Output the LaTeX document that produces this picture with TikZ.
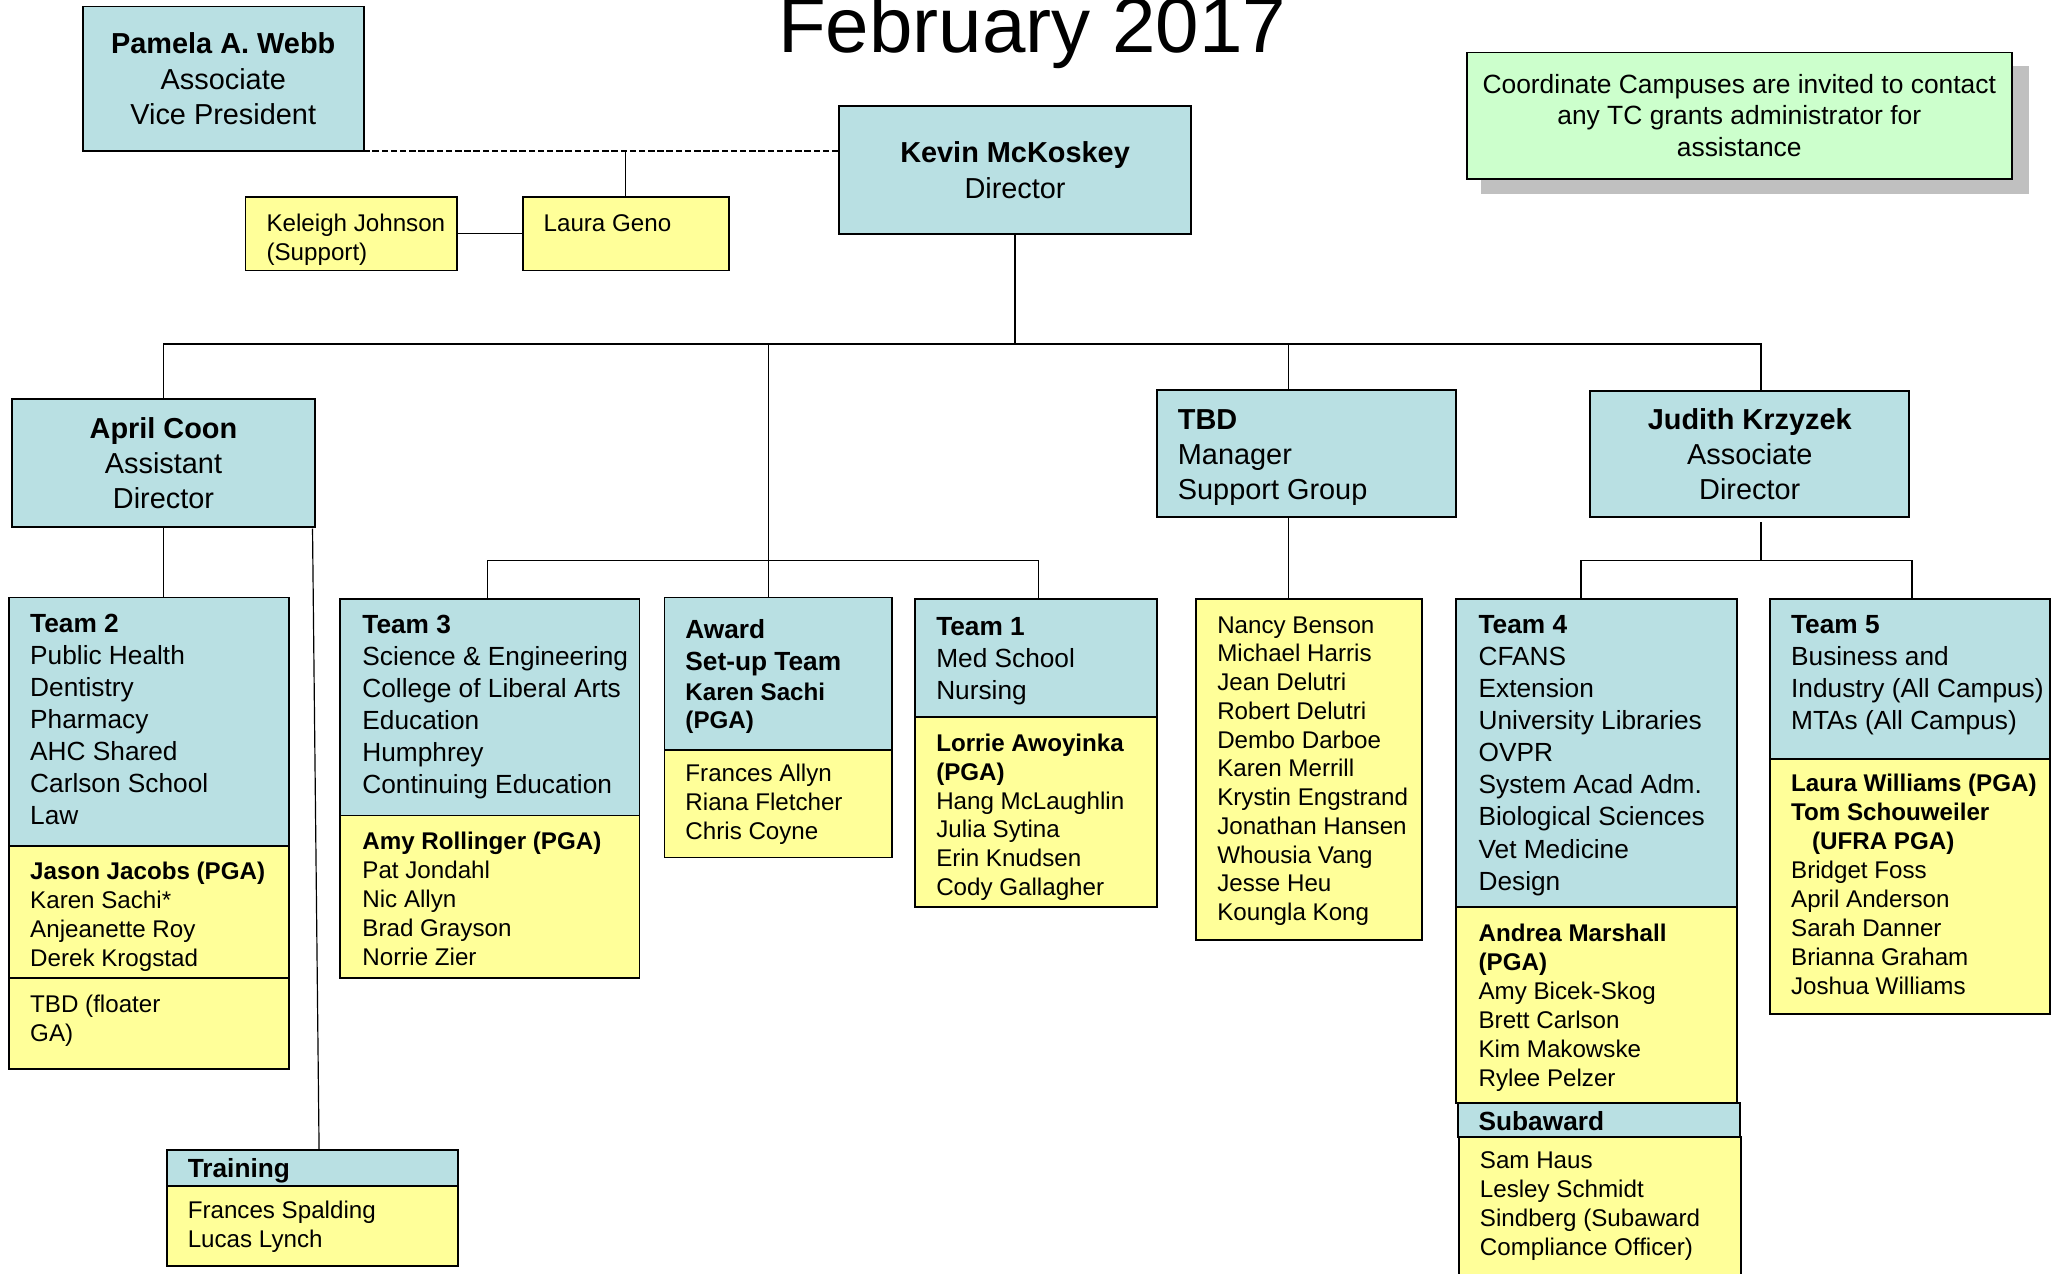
\documentclass[tikz,border=0pt]{standalone}
\usepackage{fontspec}
\setmainfont{Liberation Sans}
\definecolor{bl}{HTML}{B9E0E3}
\definecolor{yl}{HTML}{FFFF99}
\definecolor{gn}{HTML}{CCFFCC}
\definecolor{sh}{HTML}{C0C0C0}
\tikzset{
  sect/.style={draw=black, line width=1.4pt, inner sep=0pt, outer sep=0pt, anchor=north west},
  bluebox/.style={sect, fill=bl},
  yelbox/.style={sect, fill=yl},
  conn/.style={line width=0.9pt, line cap=rect},
  ln/.style={anchor=base west, inner sep=0pt, outer sep=0pt},
}
% #1 style, #2 x1, #3 y1, #4 x2, #5 y2, #6 name, #7 content
\newcommand\mkbox[7]{\node[#1, minimum width={(#4)-(#2)}, minimum height={(#5)-(#3)}] (#6) at (#2,#3) {#7};}
% #1 name, #2 x, #3 first line y, #4 spacing, #5 size, #6 list
\newcommand\txl[6]{\foreach \t [count=\i from 0] in {#6} {\node[ln, font=\fontsize{#5}{#5}\selectfont] (#1-\i) at (#2, {#3+0.33*#5+\i*#4}) {\t};}}
\begin{document}
\begin{tikzpicture}[x=1pt, y=-1pt]
\useasboundingbox (0,0) rectangle (1568,970);
% title
\node[font=\fontsize{59.5}{60}\selectfont, anchor=base, inner sep=0pt] (title) at (786,40) {February 2017};
% top boxes
\mkbox{bluebox, align=center, font=\fontsize{22}{27}\selectfont}{63}{5}{277}{115}{pamela}{\textbf{Pamela A. Webb}\\Associate\\Vice President}
\mkbox{bluebox, align=center, font=\fontsize{22}{27}\selectfont}{639}{81}{907}{178}{kevin}{\textbf{Kevin McKoskey}\\Director}
\mkbox{yelbox}{187}{150}{348}{206}{keleigh}{}
\mkbox{yelbox}{398}{150}{555}{206}{laura}{}
\txl{kt}{203}{170}{22}{18.4}{Keleigh Johnson,(Support)}
\txl{lt}{414}{170}{22}{18.4}{Laura Geno}
% note with shadow
\mkbox{sect, draw=none, fill=sh}{1128}{50}{1545}{148}{shadow}{}
\mkbox{sect, fill=gn, align=center, font=\fontsize{20.1}{24}\selectfont}{1117}{40}{1532}{136}{note}{Coordinate Campuses are invited to contact\\any TC grants administrator for\\assistance}
% second level
\mkbox{bluebox, align=center, font=\fontsize{22}{26.5}\selectfont}{9}{304}{240}{401}{april}{\textbf{April Coon}\\Assistant\\Director}
\mkbox{bluebox}{881}{297}{1109}{394}{tbd}{}
\txl{tbdt}{897}{320}{26.5}{22}{{\bfseries TBD},Manager,Support Group}
\mkbox{bluebox, align=center, font=\fontsize{22}{26.5}\selectfont}{1211}{298}{1454}{394}{judith}{\textbf{Judith Krzyzek}\\Associate\\Director}
% Team 2
\mkbox{bluebox}{7}{455}{220}{644}{team2b}{}
\mkbox{yelbox}{7}{644}{220}{745}{team2y}{}
\mkbox{yelbox}{7}{745}{220}{814}{team2f}{}
\txl{t2a}{23}{475}{24.4}{20}{{\bfseries Team 2},Public Health,Dentistry,Pharmacy,AHC Shared,Carlson School,Law}
\txl{t2b}{23}{664}{22}{18.4}{{\bfseries Jason Jacobs (PGA)},Karen Sachi*,Anjeanette Roy,Derek Krogstad}
\txl{t2c}{23}{765}{22}{18.4}{TBD (floater,GA)}
% Team 3
\mkbox{bluebox}{259}{456}{487}{621}{team3b}{}
\mkbox{yelbox}{259}{621}{487}{745}{team3y}{}
\txl{t3a}{276}{476}{24.4}{20}{{\bfseries Team 3},Science \& Engineering,College of Liberal Arts,Education,Humphrey,Continuing Education}
\txl{t3b}{276}{641}{22}{18.4}{{\bfseries Amy Rollinger (PGA)},Pat Jondahl,Nic Allyn,Brad Grayson,Norrie Zier}
% Award
\mkbox{bluebox}{506}{455}{679}{571}{awardb}{}
\mkbox{yelbox}{506}{571}{679}{653}{awardy}{}
\txl{awa}{522}{480}{24}{20}{{\bfseries Award},{\bfseries Set-up Team}}
\txl{awb}{522}{527}{22}{18.4}{{\bfseries Karen Sachi},{\bfseries (PGA)}}
\txl{awc}{522}{589}{22}{18.4}{Frances Allyn,Riana Fletcher,Chris Coyne}
% Team 1
\mkbox{bluebox}{697}{456}{881}{546}{team1b}{}
\mkbox{yelbox}{697}{546}{881}{691}{team1y}{}
\txl{t1a}{713}{477}{24.4}{20}{{\bfseries Team 1},Med School,Nursing}
\txl{t1b}{713}{566}{22}{18.4}{{\bfseries Lorrie Awoyinka},{\bfseries (PGA)},Hang McLaughlin,Julia Sytina,Erin Knudsen,Cody Gallagher}
% Support group
\mkbox{yelbox}{911}{456}{1083}{716}{support}{}
\txl{sg}{927}{476}{21.9}{18.4}{Nancy Benson,Michael Harris,Jean Delutri,Robert Delutri,Dembo Darboe,Karen Merrill,Krystin Engstrand,Jonathan Hansen,Whousia Vang,Jesse Heu,Koungla Kong}
% Team 4
\mkbox{bluebox}{1109}{456}{1323}{691}{team4b}{}
\mkbox{yelbox}{1109}{691}{1323}{840}{team4y}{}
\mkbox{bluebox}{1110}{840}{1325}{866}{subb}{}
\mkbox{yelbox}{1111}{866}{1326}{985}{suby}{}
\txl{t4a}{1126}{476}{24.4}{20}{{\bfseries Team 4},CFANS,Extension,University Libraries,OVPR,System Acad Adm.,Biological Sciences,Vet Medicine,Design}
\txl{t4b}{1126}{711}{22}{18.4}{{\bfseries Andrea Marshall},{\bfseries (PGA)},Amy Bicek-Skog,Brett Carlson,Kim Makowske,Rylee Pelzer}
\txl{t4c}{1126}{854}{22}{20}{{\bfseries Subaward}}
\txl{t4d}{1127}{884}{22}{18.4}{Sam Haus,Lesley Schmidt,Sindberg (Subaward,Compliance Officer)}
% Team 5
\mkbox{bluebox}{1348}{456}{1561}{578}{team5b}{}
\mkbox{yelbox}{1348}{578}{1561}{772}{team5y}{}
\txl{t5a}{1364}{476}{24.4}{20}{{\bfseries Team 5},Business and,Industry (All Campus),MTAs (All Campus)}
\txl{t5b}{1364}{597}{22}{18.4}{{\bfseries Laura Williams (PGA)},{\bfseries Tom Schouweiler}}
\txl{t5c}{1380}{641}{22}{18.4}{{\bfseries (UFRA PGA)}}
\txl{t5d}{1364}{663}{22}{18.4}{Bridget Foss,April Anderson,Sarah Danner,Brianna Graham,Joshua Williams}
% Training
\mkbox{bluebox}{127}{876}{349}{903}{trainb}{}
\mkbox{yelbox}{127}{903}{349}{964}{trainy}{}
\txl{tra}{143}{890}{22}{20}{{\bfseries Training}}
\txl{trb}{143}{922}{22}{18.4}{Frances Spalding,Lucas Lynch}
% connectors
\coordinate (busy) at (0,262);
\coordinate (bus2) at (0,427);
\coordinate (awx) at (585,0);
\coordinate (tbdx) at (981,0);
\coordinate (jx) at (1341,0);
\coordinate (t3x) at (371,0);
\coordinate (t1x) at (791,0);
\coordinate (t4x) at (1204,0);
\coordinate (t5x) at (1456,0);
\coordinate (trs) at (238,403);
\coordinate (tre) at (243,876);
\draw[conn, dash pattern=on 4pt off 3pt] (pamela.south east) -- (pamela.south east -| kevin.west);
\draw[conn] (laura.north) -- (laura.north |- pamela.south east);
\draw[conn] (keleigh.east) -- (laura.west);
\draw[conn] (kevin.south) -- (kevin.south |- busy);
\draw[conn] (april.north) -- (april.north |- busy) -- (jx |- busy) -- (jx |- judith.north);
\draw[conn] (awx |- busy) -- (awx |- awardb.north);
\draw[conn] (tbdx |- busy) -- (tbdx |- tbd.north);
\draw[conn] (t3x |- team3b.north) -- (t3x |- bus2) -- (t1x |- bus2) -- (t1x |- team1b.north);
\draw[conn] (tbdx |- tbd.south) -- (tbdx |- support.north);
\draw[conn] (april.south) -- (april.south |- team2b.north);
\draw[conn] (trs) -- (tre);
\draw[conn] (jx |- judith.south) ++(0,4) -- (jx |- bus2);
\draw[conn] (t4x |- team4b.north) -- (t4x |- bus2) -- (t5x |- bus2) -- (t5x |- team5b.north);
\end{tikzpicture}
\end{document}
